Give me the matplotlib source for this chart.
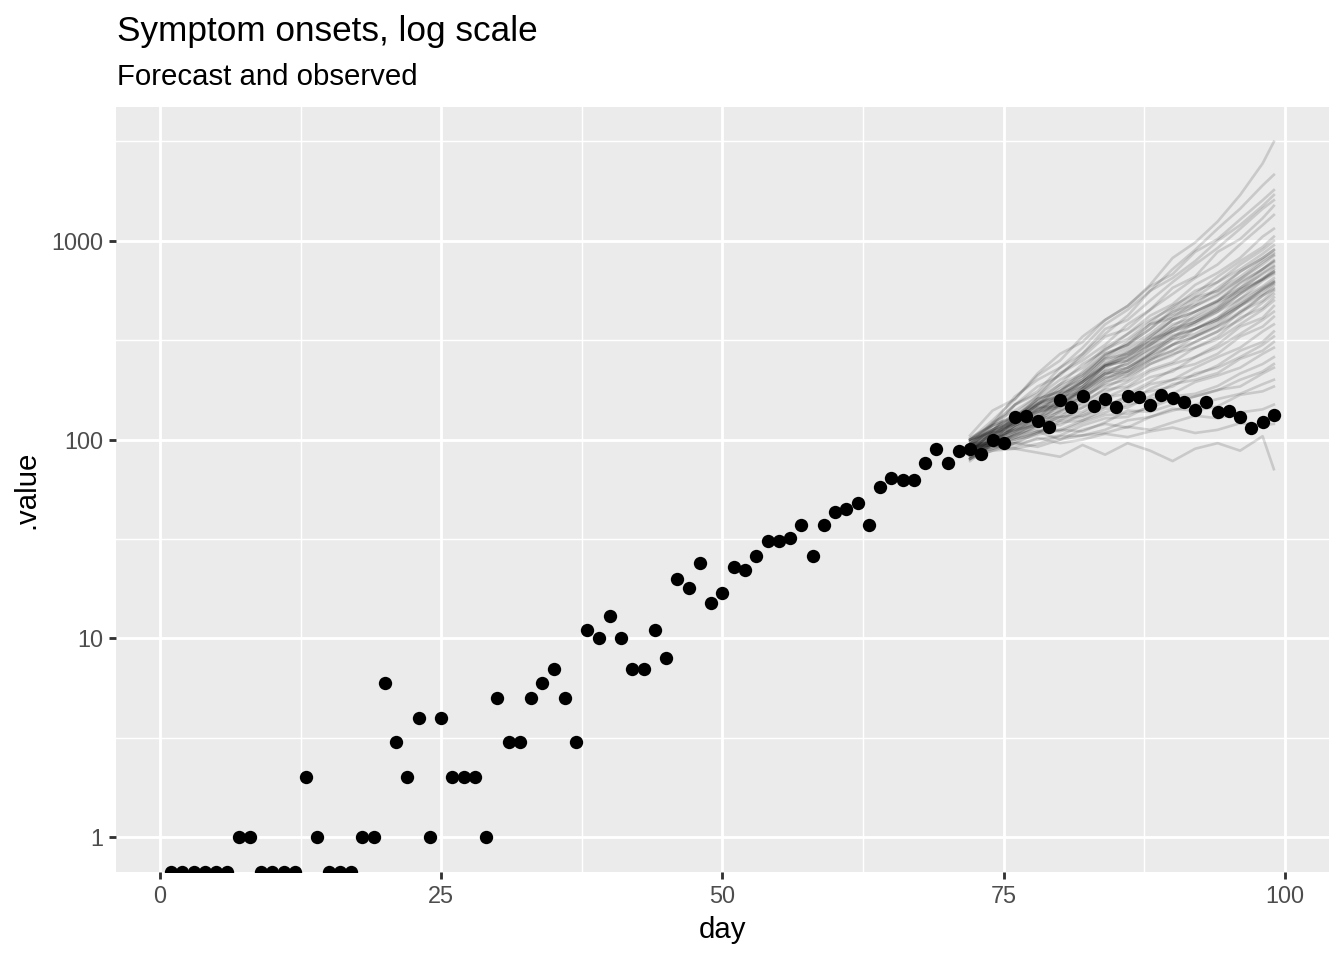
import numpy as np
import matplotlib
matplotlib.use("Agg")
import matplotlib.pyplot as plt
from matplotlib.ticker import FixedLocator, NullFormatter

plt.rcParams['font.family'] = ['Liberation Sans', 'DejaVu Sans']

# ---------------- data ----------------
days = list(range(1, 100))
observed = [0, 0, 0, 0, 0, 0, 1, 1, 0, 0, 0, 0, 2, 1, 0, 0, 0, 1, 1,
            6, 3, 2, 4, 1, 4, 2, 2, 2, 1,
            5, 3, 3, 5, 6, 7, 5, 3,
            11, 10, 13, 10, 7, 7, 11, 8,
            20, 18, 24, 15, 17, 23, 22, 26,
            31, 31, 32, 37, 26, 37, 43, 45, 48, 37,
            58, 64, 63, 63, 76, 90, 76, 88, 90, 85,
            100, 96, 130, 132, 124, 116, 158, 146, 166, 148,
            160, 146, 166, 164, 150, 168, 162, 155, 141, 155,
            138, 140, 130, 115, 122, 133]

forecast_days = [72, 74, 76, 78, 80, 82, 84, 86, 88, 90, 92, 94, 96, 98, 99]
forecast_paths = [
    [100, 125, 160, 210, 250, 330, 400, 470, 600, 820, 980, 1250, 1700, 2450, 3150],
    [95, 120, 165, 200, 230, 290, 380, 450, 560, 720, 900, 1150, 1450, 1900, 2150],
    [105, 140, 160, 215, 270, 310, 400, 470, 590, 680, 880, 1020, 1280, 1600, 1800],
    [90, 118, 150, 175, 230, 270, 340, 420, 560, 650, 790, 1000, 1200, 1500, 1700],
    [98, 110, 150, 185, 210, 270, 360, 400, 500, 620, 760, 920, 1150, 1450, 1600],
    [85, 112, 135, 165, 215, 250, 300, 380, 450, 580, 660, 880, 1020, 1300, 1500],
    [100, 120, 150, 170, 215, 260, 330, 360, 450, 540, 650, 760, 960, 1200, 1350],
    [92, 115, 130, 160, 190, 240, 280, 340, 420, 480, 600, 690, 820, 1050, 1150],
    [88, 108, 128, 160, 175, 220, 285, 320, 390, 470, 540, 660, 790, 930, 1050],
    [95, 122, 140, 165, 200, 230, 290, 340, 400, 460, 560, 620, 760, 900, 1000],
    [80, 100, 125, 150, 185, 210, 260, 310, 380, 430, 520, 620, 720, 860, 950],
    [90, 104, 130, 160, 175, 205, 265, 300, 360, 440, 480, 580, 700, 820, 900],
    [100, 118, 132, 155, 190, 215, 270, 300, 380, 410, 500, 560, 660, 800, 870],
    [85, 100, 118, 135, 170, 195, 245, 280, 330, 400, 470, 540, 640, 780, 850],
    [95, 108, 125, 155, 165, 200, 255, 270, 320, 400, 440, 500, 620, 720, 800],
    [88, 108, 120, 140, 170, 185, 235, 275, 310, 370, 440, 500, 580, 720, 780],
    [78, 95, 115, 130, 160, 190, 235, 260, 320, 350, 420, 490, 560, 690, 750],
    [92, 100, 125, 145, 150, 185, 235, 250, 300, 360, 390, 460, 570, 640, 720],
    [102, 118, 130, 152, 165, 195, 235, 250, 300, 350, 390, 450, 540, 650, 700],
    [85, 102, 112, 128, 160, 175, 210, 250, 285, 325, 390, 440, 510, 630, 680],
    [90, 96, 118, 138, 145, 178, 215, 230, 270, 320, 360, 410, 510, 590, 650],
    [80, 95, 108, 122, 150, 165, 200, 230, 265, 300, 360, 400, 470, 570, 620],
    [95, 104, 122, 143, 148, 180, 214, 220, 260, 300, 330, 380, 470, 540, 600],
    [88, 100, 110, 127, 150, 160, 192, 220, 255, 280, 330, 370, 430, 530, 580],
    [100, 110, 125, 138, 150, 175, 204, 215, 250, 280, 310, 350, 440, 500, 560],
    [82, 96, 105, 118, 140, 150, 182, 208, 240, 265, 310, 350, 400, 490, 540],
    [90, 100, 118, 128, 140, 165, 188, 200, 240, 270, 290, 330, 410, 460, 520],
    [86, 96, 104, 118, 135, 145, 172, 195, 225, 245, 290, 320, 380, 450, 500],
    [95, 100, 115, 128, 130, 155, 178, 185, 220, 240, 260, 300, 370, 410, 470],
    [84, 94, 102, 116, 130, 138, 162, 182, 206, 220, 260, 290, 340, 400, 440],
    [92, 97, 112, 122, 125, 145, 163, 170, 195, 225, 240, 270, 330, 370, 415],
    [80, 92, 96, 108, 125, 130, 147, 165, 190, 200, 230, 260, 290, 350, 380],
    [90, 94, 108, 120, 118, 135, 153, 155, 180, 200, 210, 236, 280, 310, 350],
    [98, 108, 112, 118, 130, 132, 147, 165, 175, 185, 215, 230, 260, 300, 330],
    [85, 90, 100, 110, 112, 125, 143, 145, 165, 190, 200, 216, 255, 280, 310],
    [90, 98, 100, 108, 122, 125, 137, 150, 160, 170, 195, 210, 230, 270, 290],
    [82, 88, 96, 100, 105, 118, 128, 130, 148, 165, 170, 186, 215, 240, 260],
    [95, 96, 106, 112, 110, 122, 133, 135, 145, 160, 165, 177, 200, 220, 240],
    [88, 94, 98, 106, 112, 110, 122, 140, 138, 150, 165, 178, 185, 215, 230],
    [80, 88, 90, 95, 104, 105, 112, 125, 130, 140, 150, 160, 170, 190, 200],
    [92, 94, 102, 110, 100, 112, 120, 115, 130, 143, 140, 147, 168, 175, 185],
    [85, 90, 96, 92, 100, 105, 108, 116, 112, 122, 132, 128, 137, 142, 150],
    [90, 95, 92, 102, 96, 100, 107, 103, 110, 115, 108, 112, 121, 118, 120],
    [88, 92, 90, 86, 82, 94, 84, 96, 88, 78, 90, 96, 88, 104, 71],
    [95, 112, 130, 150, 175, 210, 270, 300, 360, 450, 520, 560, 700, 820, 900],
    [88, 104, 120, 145, 160, 195, 240, 270, 330, 400, 440, 495, 610, 720, 790],
    [92, 110, 122, 150, 180, 200, 255, 290, 340, 420, 470, 530, 640, 760, 840],
    [84, 98, 115, 135, 150, 180, 220, 240, 290, 350, 380, 440, 540, 640, 700],
    [98, 112, 128, 148, 170, 195, 238, 260, 310, 380, 410, 470, 580, 680, 740],
    [90, 106, 120, 142, 160, 185, 228, 265, 300, 362, 400, 455, 550, 640, 690],
    [86, 100, 110, 130, 145, 168, 205, 222, 270, 318, 340, 395, 470, 560, 610],
    [94, 106, 122, 140, 155, 172, 215, 230, 270, 330, 360, 400, 490, 580, 630],
    [82, 94, 106, 124, 138, 160, 196, 210, 250, 300, 330, 372, 440, 530, 570],
    [100, 112, 125, 150, 160, 180, 222, 240, 280, 335, 360, 410, 480, 570, 620],
]

x_ticks = [0, 25, 50, 75, 100]
y_ticks = [1, 10, 100, 1000]
y_tick_labels = ["1", "10", "100", "1000"]

title = "Symptom onsets, log scale"
subtitle = "Forecast and observed"
x_label = "day"
y_label = ".value"

# ---------------- figure ----------------
fig = plt.figure(figsize=(7, 5), dpi=192)
ax = fig.add_axes([116 / 1344, 1 - 872 / 960, (1329 - 116) / 1344, (872 - 107) / 960])
ax.set_facecolor("#EBEBEB")
for s in ax.spines.values():
    s.set_visible(False)

ax.set_yscale("log")

# limits (ggplot-like 5% expansion in transformed space)
obs = np.array(observed, dtype=float)
fc = np.array(forecast_paths, dtype=float)
lo = np.log10(obs[obs > 0].min())
hi = np.log10(max(obs.max(), fc.max()))
pad = 0.05 * (hi - lo)
ymin, ymax = 10 ** (lo - pad), 10 ** (hi + pad)
xpad = 0.05 * (max(days) - min(days))
ax.set_xlim(min(days) - xpad, max(days) + xpad)
ax.set_ylim(ymin, ymax)

# grid
minor_y = [10 ** (np.log10(a) + 0.5) for a in y_ticks]
ax.xaxis.set_major_locator(FixedLocator(x_ticks))
ax.xaxis.set_minor_locator(FixedLocator([12.5, 37.5, 62.5, 87.5]))
ax.yaxis.set_major_locator(FixedLocator(y_ticks))
ax.yaxis.set_minor_locator(FixedLocator(minor_y))
ax.yaxis.set_minor_formatter(NullFormatter())
ax.set_xticklabels([str(t) for t in x_ticks])
ax.set_yticklabels(y_tick_labels)
ax.grid(which="major", color="white", linewidth=1.07)
ax.grid(which="minor", color="white", linewidth=0.53)
ax.set_axisbelow(True)
ax.tick_params(which="major", length=2.75, width=1.07, color="#333333",
               labelcolor="#4D4D4D", labelsize=8.8, pad=2.2)
ax.tick_params(which="minor", length=0)

# forecast lines
for path in forecast_paths:
    ax.plot(forecast_days, path, color="black", alpha=0.14, linewidth=1.0,
            solid_joinstyle="round", zorder=2)

# observed points (zeros drawn at the lower panel edge, as ggplot does)
y_plot = np.where(obs > 0, obs, ymin)
ax.plot(days, y_plot, linestyle="none", marker="o", markersize=5.0,
        color="black", markeredgewidth=0, zorder=3)

ax.set_xlabel(x_label, fontsize=11, color="black", labelpad=3)
ax.set_ylabel(y_label, fontsize=11, color="black", labelpad=4)

fig.text(117 / 1344, 1 - 41 / 960, title, fontsize=13.2, ha="left", va="baseline")
fig.text(117 / 1344, 1 - 85 / 960, subtitle, fontsize=11, ha="left", va="baseline")

fig.savefig("out.png", dpi=192, facecolor="white")
